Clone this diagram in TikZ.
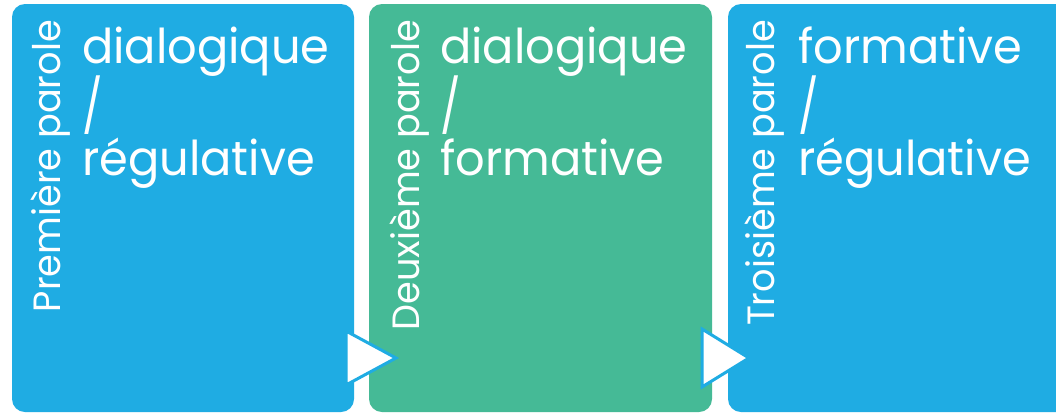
\documentclass[tikz,border=0pt]{standalone}
\usepackage{fontspec}
\setmainfont{Poppins}
\definecolor{cblue}{HTML}{1FACE3}
\definecolor{cgreen}{HTML}{45BA96}
\newcommand{\sqz}[1]{\scalebox{0.965}[1]{#1}}
\newcommand{\slsh}{\scalebox{0.9}[1.1]{/}}
\begin{document}
\begin{tikzpicture}[x=1pt,y=1pt,
  panel/.style={rounded corners=13pt, minimum height=408pt, inner sep=0pt, draw=none},
  vtext/.style={rotate=90, anchor=base east, inner sep=0pt, text=white, font=\fontsize{38}{38}\selectfont},
  mtext/.style={anchor=base west, inner sep=0pt, text=white, font=\fontsize{48}{48}\selectfont},
  arrowtri/.style={fill=white, draw=cblue, line width=3pt, line join=miter}
]
\clip (0,0) rectangle (1056,-413);
\fill[white] (0,0) rectangle (1056,-413);
\node[panel, fill=cblue, minimum width=342pt] (b1) at (183,-208) {};
\node[panel, fill=cgreen, minimum width=343pt] (b2) at (540.5,-208) {};
\node[panel, fill=cblue, minimum width=342pt] (b3) at (899,-208) {};
% vertical titles
\node[vtext] (v1) at (60,-20) {\sqz{Première parole}};
\node[vtext] (v2) at (419,-20) {\sqz{Deuxième parole}};
\node[vtext] (v3) at (774,-20) {\sqz{Troisième parole}};
% main texts
\node[mtext] (a1) at (82,-63) {\sqz{dialogique}};
\node[mtext] (a2) at (82,-125) {\slsh};
\node[mtext] (a3) at (82,-175) {\sqz{régulative}};
\node[mtext] (c1) at (440,-63) {\sqz{dialogique}};
\node[mtext] (c2) at (440,-125) {\slsh};
\node[mtext] (c3) at (440,-175) {\sqz{formative}};
\node[mtext] (d1) at (798,-63) {\sqz{formative}};
\node[mtext] (d2) at (798,-125) {\slsh};
\node[mtext] (d3) at (798,-175) {\sqz{régulative}};
% arrows
\draw[arrowtri] (346,-331) -- (346,-385) -- (396,-358) -- cycle;
\draw[arrowtri] (702,-329) -- (702,-387) -- (749,-358) -- cycle;
\end{tikzpicture}
\end{document}
